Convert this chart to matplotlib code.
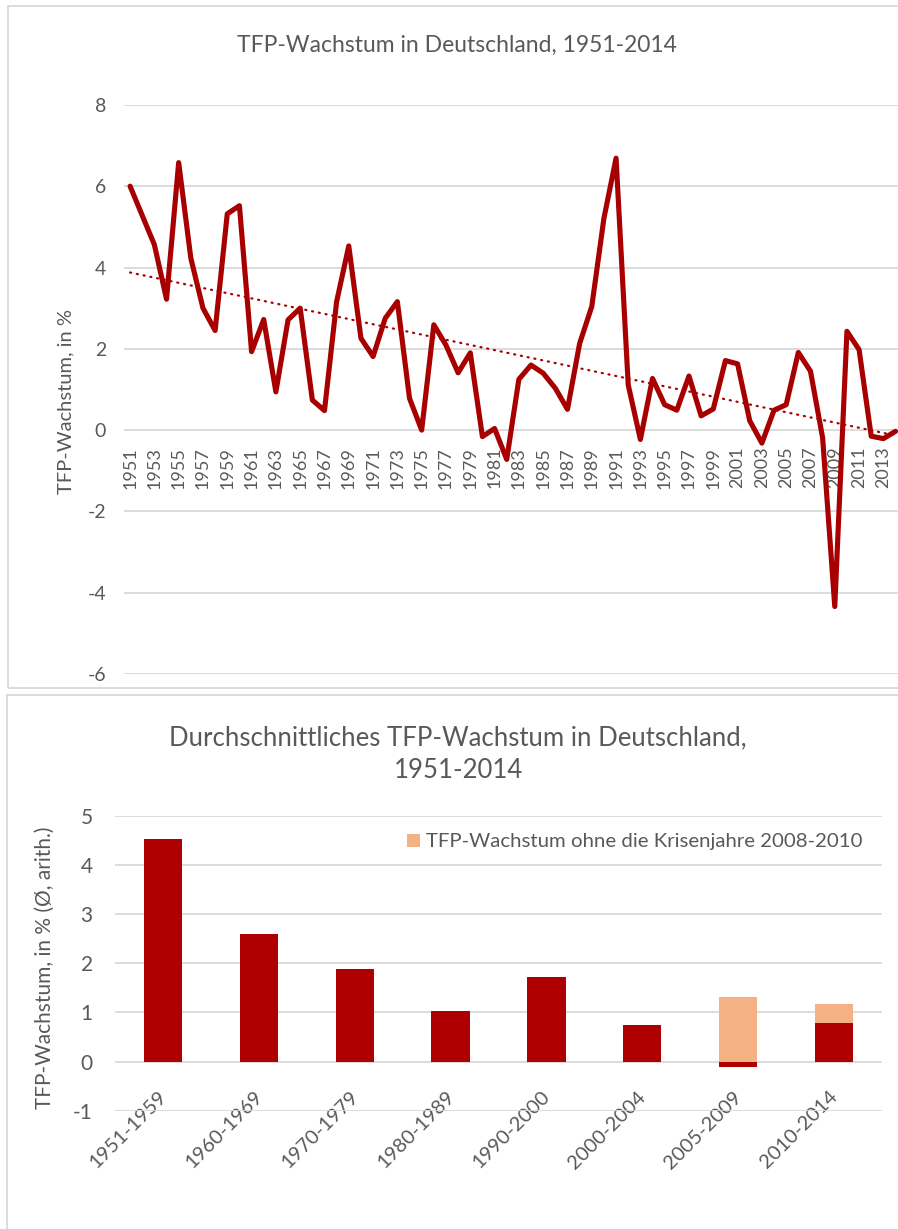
import numpy as np
import matplotlib
matplotlib.use("Agg")
import matplotlib.pyplot as plt
import matplotlib.patches as mpatches
import matplotlib.transforms as mtrans

# ---------------- data ----------------
years = list(range(1951, 2015))
tfp_growth = [6.0, 5.28, 4.56, 3.22, 6.58, 4.23, 3.0, 2.45, 5.32, 5.52,
              1.93, 2.72, 0.94, 2.71, 3.0, 0.74, 0.48, 3.16, 4.53, 2.26,
              1.81, 2.75, 3.16, 0.78, 0.0, 2.59, 2.09, 1.41, 1.90, -0.16,
              0.04, -0.72, 1.25, 1.60, 1.40, 1.03, 0.51, 2.13, 3.04, 5.21,
              6.69, 1.11, -0.23, 1.27, 0.625, 0.49, 1.33, 0.35, 0.52, 1.71,
              1.63, 0.23, -0.32, 0.49, 0.625, 1.91, 1.45, -0.19, -4.34, 2.43,
              1.98, -0.15, -0.21, -0.03]

periods = ["1951-1959", "1960-1969", "1970-1979", "1980-1989",
           "1990-2000", "2000-2004", "2005-2009", "2010-2014"]
avg_growth = [4.53, 2.59, 1.88, 1.025, 1.73, 0.74, -0.12, 0.79]
avg_excl_crisis_extra = [0, 0, 0, 0, 0, 0, 1.32, 0.39]

title_top = "TFP-Wachstum in Deutschland, 1951-2014"
title_bottom = "Durchschnittliches TFP-Wachstum in Deutschland,\n1951-2014"
ylabel_top = "TFP-Wachstum, in %"
ylabel_bottom = "TFP-Wachstum, in % (Ø, arith.)"
legend_label = "TFP-Wachstum ohne die Krisenjahre 2008-2010"

# ---------------- style ----------------
plt.rcParams['font.family'] = ['Lato', 'DejaVu Sans']
plt.rcParams['axes.unicode_minus'] = False
TXT = '#595959'
GRID = '#D9D9D9'
RED = '#A80000'
BAR = '#AE0000'
LIGHT = '#F4B183'

W, H = 898, 1229
fig = plt.figure(figsize=(W / 100, H / 100), dpi=100)

def fx(px):
    return px / W

def fy(py):
    return 1 - py / H

# panel borders
fig.patches.append(mpatches.Rectangle((fx(8), fy(688)), fx(W + 10) - fx(8), fy(6) - fy(688),
                                      transform=fig.transFigure, fill=False,
                                      edgecolor=GRID, linewidth=1.3, zorder=0))
fig.patches.append(mpatches.Rectangle((fx(7), fy(H + 10)), fx(W + 10) - fx(7), fy(695) - fy(H + 10),
                                      transform=fig.transFigure, fill=False,
                                      edgecolor=GRID, linewidth=1.3, zorder=0))

# ---------------- top chart ----------------
ax1 = fig.add_axes([fx(124), fy(674), fx(901.6) - fx(124), fy(104.9) - fy(674)])
ax1.set_xlim(1950.5, 2014.5)
ax1.set_ylim(-6, 8)
ax1.set_yticks(range(-6, 9, 2))
ax1.yaxis.grid(True, color=GRID, linewidth=1.3)
ax1.set_axisbelow(True)
for s in ax1.spines.values():
    s.set_visible(False)
ax1.spines['bottom'].set_position(('data', 0))
ax1.set_xticks(years[::2])
ax1.set_xticklabels([str(y) for y in years[::2]], rotation=90)
ax1.tick_params(axis='x', length=0, pad=12, labelsize=13, labelcolor=TXT)
ax1.tick_params(axis='y', length=0, pad=13, labelsize=14, labelcolor=TXT)

ax1.plot(years, tfp_growth, color=RED, linewidth=3.7, solid_joinstyle='round',
         solid_capstyle='round', zorder=3)
coef = np.polyfit(years, tfp_growth, 1)
trend = np.polyval(coef, years)
ax1.plot(years, trend, color=RED, linewidth=1.6, linestyle=(0, (0.5, 2.6)),
         dash_capstyle='round', zorder=2)

ax1.set_ylabel(ylabel_top, fontsize=14.5, color=TXT)
ax1.yaxis.set_label_coords(fx(74), fy(402), transform=fig.transFigure)

fig.text(fx(457), fy(45), title_top, ha='center', va='center', fontsize=16.5,
         color=TXT)

# ---------------- bottom chart ----------------
ax2 = fig.add_axes([fx(115), fy(1110.7), fx(882) - fx(115), fy(815.9) - fy(1110.7)])
x = np.arange(len(periods))
ax2.set_xlim(-0.5, len(periods) - 0.5)
ax2.set_ylim(-1, 5)
ax2.set_yticks(range(-1, 6))
ax2.yaxis.grid(True, color=GRID, linewidth=1.3)
ax2.set_axisbelow(True)
for s in ax2.spines.values():
    s.set_visible(False)
ax2.spines['bottom'].set_position(('data', 0))

ax2.bar(x, avg_growth, width=0.4, color=BAR, zorder=3)
base = np.clip(avg_growth, 0, None)
light = ax2.bar(x, avg_excl_crisis_extra, width=0.4, bottom=base, color=LIGHT,
                zorder=3, label=legend_label)

ax2.set_xticks(x)
ax2.set_xticklabels(periods)
ax2.tick_params(axis='x', length=0, pad=19, labelsize=14.5, labelcolor=TXT)
ax2.tick_params(axis='y', length=0, pad=16, labelsize=15, labelcolor=TXT)
offset = mtrans.ScaledTranslation(-5 / 100, 0, fig.dpi_scale_trans)
for lab in ax2.get_xticklabels():
    lab.set_rotation(45)
    lab.set_ha('right')
    lab.set_va('top')
    lab.set_rotation_mode('anchor')
    lab.set_transform(lab.get_transform() + offset)

ax2.set_ylabel(ylabel_bottom, fontsize=15, color=TXT)
ax2.yaxis.set_label_coords(fx(55), fy(968), transform=fig.transFigure)

ax2.legend(handles=[light], loc='center left', bbox_to_anchor=(fx(407), fy(842)),
           bbox_transform=fig.transFigure, frameon=False, fontsize=14.7,
           handlelength=0.65, handleheight=0.65, handletextpad=0.3,
           labelcolor=TXT, borderpad=0, borderaxespad=0)

fig.text(fx(458), fy(754), title_bottom, ha='center', va='center', fontsize=18.5,
         color=TXT, linespacing=1.4)

fig.savefig("out.png", dpi=100)
